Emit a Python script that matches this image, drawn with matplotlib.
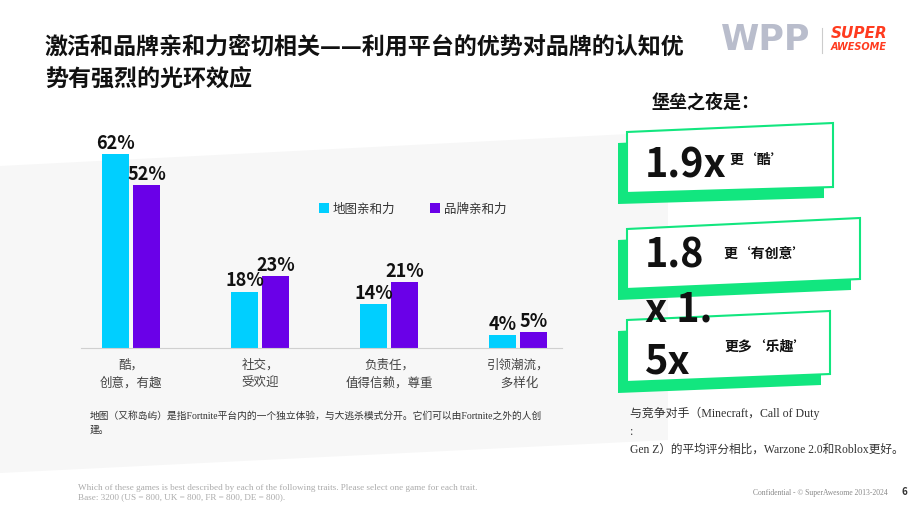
import matplotlib.pyplot as plt
from matplotlib.patches import Polygon
import numpy as np

plt.rcParams['font.family'] = ['Noto Sans CJK SC', 'DejaVu Sans']

categories = ['酷，\n创意，有趣', '社交，\n受欢迎', '负责任，\n值得信赖，尊重', '引领潮流，\n 多样化']
map_affinity = [62, 18, 14, 4]
brand_affinity = [52, 23, 21, 5]
series_names = ['地图亲和力', '品牌亲和力']

multipliers = ['1.9x', '1.8', '5x']
multiplier_notes = ['更‘酷’', '更‘有创意’', '更多‘乐趣’']

cyan = '#00CFFF'
purple = '#6A00E8'
green = '#12E67F'

W, H = 920, 518
fig = plt.figure(figsize=(W / 100, H / 100), dpi=100)

# full-page layer in pixel coordinates
bg = fig.add_axes([0, 0, 1, 1], zorder=0)
bg.set_xlim(0, W)
bg.set_ylim(H, 0)
bg.axis('off')

bg.add_patch(Polygon([(0, 166), (668, 132), (668, 440), (0, 473)],
                     closed=True, facecolor='#f7f7f7', edgecolor='none'))

# title
bg.text(45, 47, '激活和品牌亲和力密切相关——利用平台的优势对品牌的认知优',
        fontsize=16.6, fontweight='bold', va='center', color='#111111')
bg.text(45, 80, '势有强烈的光环效应',
        fontsize=16.6, fontweight='bold', va='center', color='#111111')

# logos
bg.text(721, 40, 'WPP', fontsize=25, fontweight='bold', va='center',
        color='#b9bdcc', family='DejaVu Sans')
bg.plot([822, 822], [28, 53], color='#cccccc', lw=0.8)
bg.text(831, 34, 'SUPER', fontsize=11, fontweight='bold', style='italic',
        va='center', color='#ff3b1f', family='DejaVu Sans')
bg.text(831, 47, 'AWESOME', fontsize=7, fontweight='bold', style='italic',
        va='center', color='#ff3b1f', family='DejaVu Sans')

bg.text(652, 103, '堡垒之夜是：', fontsize=13, fontweight='bold', va='center',
        color='#111111')

# tilted boxes
boxes = [
    [(627, 132), (833, 123), (833, 187), (627, 193)],
    [(627, 229), (860, 218), (860, 279), (627, 289)],
    [(627, 320), (830, 311), (830, 374), (627, 382)],
]
for pts in boxes:
    shadow = [(x - 9, y + 11) for x, y in pts]
    bg.add_patch(Polygon(shadow, closed=True, facecolor=green, edgecolor='none'))
    bg.add_patch(Polygon(pts, closed=True, facecolor='white', edgecolor=green, lw=1.5))

big_pos = [(645, 178), (645, 268), (645, 373)]
note_pos = [(729, 160), (723, 255), (724, 347)]
for txt, (x, y) in zip(multipliers, big_pos):
    bg.text(x, y, txt, fontsize=28.5, fontweight='bold', va='baseline', color='#111111')
bg.text(645, 322, 'x 1.', fontsize=28.5, fontweight='bold', va='baseline', color='#111111')
for txt, (x, y) in zip(multiplier_notes, note_pos):
    bg.text(x, y, txt, fontsize=10, fontweight='bold', va='center', color='#111111')

# notes
serif = ['Liberation Serif', 'Noto Sans CJK SC']
bg.text(90, 416, '地图（又称岛屿）是指Fortnite平台内的一个独立体验，与大逃杀模式分开。它们可以由Fortnite之外的人创',
        fontsize=7, va='center', color='#333333', family=serif)
bg.text(90, 430, '建。', fontsize=7, va='center', color='#333333', family=serif)
bg.text(630, 413, '与竞争对手（Minecraft，Call of Duty', fontsize=8.6, va='center',
        color='#333333', family=serif)
bg.text(630, 432, ':', fontsize=8.6, va='center', color='#333333', family=serif)
bg.text(630, 450, 'Gen Z）的平均评分相比，Warzone 2.0和Roblox更好。', fontsize=8.4,
        va='center', color='#333333', family=serif)

bg.text(78, 488, 'Which of these games is best described by each of the following traits. '
        'Please select one game for each trait.', fontsize=6.6, va='center',
        color='#aaaaaa', family=serif)
bg.text(78, 497, 'Base: 3200 (US = 800, UK = 800, FR = 800, DE = 800).', fontsize=6.6,
        va='center', color='#aaaaaa', family=serif)
bg.text(753, 493, 'Confidential - © SuperAwesome 2013-2024', fontsize=5.5, va='center',
        color='#888888', family=serif)
bg.text(902, 492, '6', fontsize=7, fontweight='bold', va='center', color='#333333')

# bar chart
ax = fig.add_axes([81 / W, 1 - 348 / H, (562 - 81) / W, 219 / H], zorder=1)
ax.patch.set_alpha(0)
x = np.arange(len(categories))
w = 0.21
off = 0.12
b1 = ax.bar(x - off, map_affinity, w, color=cyan, label=series_names[0])
b2 = ax.bar(x + off, brand_affinity, w, color=purple, label=series_names[1])
for bars, vals in [(b1, map_affinity), (b2, brand_affinity)]:
    ax.bar_label(bars, labels=[f'{v}%' for v in vals], padding=1,
                 fontsize=13, fontweight='bold', color='#111111')

ax.set_xlim(-0.388, 3.34)
ax.set_ylim(0, 70)
ax.set_xticks(x)
ax.set_xticklabels(categories, fontsize=9, color='#444444', linespacing=1.45)
ax.tick_params(axis='x', length=0, pad=8)
ax.set_yticks([])
for s in ['top', 'left', 'right']:
    ax.spines[s].set_visible(False)
ax.spines['bottom'].set_color('#d0d0d0')

ax.legend(loc='center left', bbox_to_anchor=(319 / W, 1 - 209 / H),
          bbox_transform=fig.transFigure, ncol=2, frameon=False, fontsize=9,
          handlelength=0.8, handleheight=0.8, handletextpad=0.3,
          columnspacing=2.8, borderpad=0, borderaxespad=0, labelcolor='#333333')

fig.savefig('out.png', dpi=100)
